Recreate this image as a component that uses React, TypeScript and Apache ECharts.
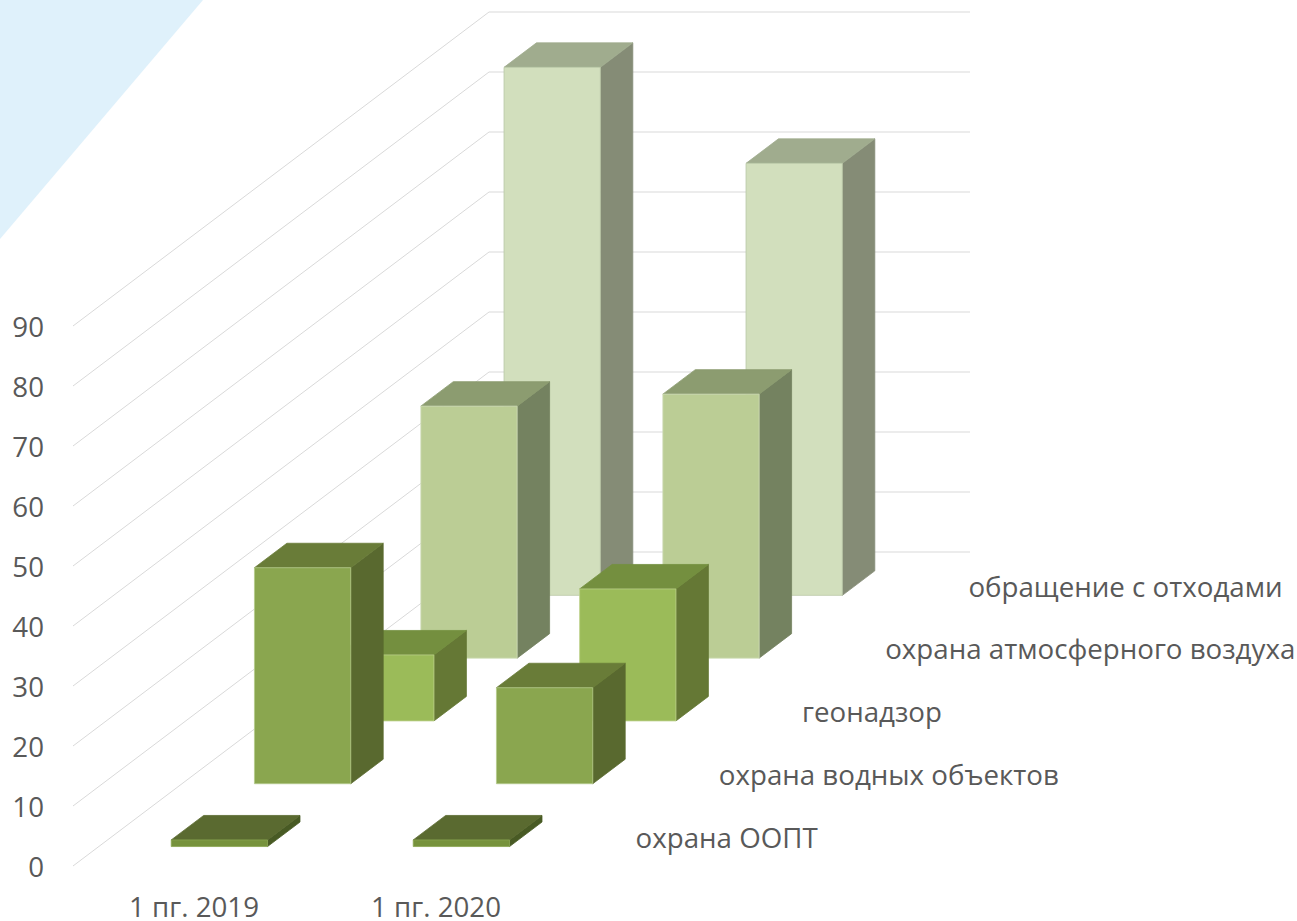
import React, { useEffect, useRef } from "react";
import * as echarts from "echarts";

const categories = ["1 пг. 2019", "1 пг. 2020"];
const depthNames = [
  "охрана ООПТ",
  "охрана водных объектов",
  "геонадзор",
  "охрана атмосферного воздуха",
  "обращение с отходами",
];
const ooptValues = [1.1, 1.1];
const waterValues = [36, 16];
const geoValues = [11, 22];
const airValues = [42, 44];
const wasteValues = [88, 72];
const yTicks = [0, 10, 20, 30, 40, 50, 60, 70, 80, 90];

const frontColors = ["#76923c", "#8aa64f", "#9bbb59", "#bbcd95", "#d2dfbd"];
const topColors = ["#5a6a30", "#697c38", "#748f3f", "#8c9c70", "#a0ac8e"];
const sideColors = ["#485a24", "#59692f", "#657835", "#748260", "#858c76"];
const edgeColors = ["#8aa650", "#b4c98a", "#bcd08a", "#cfdcb8", "#b9c6a6"];

const DEPTH_DX = 83.2;
const DEPTH_DY = -62.8;
const BAR_FRONT = 0.31;
const BAR_BACK = 0.7;
const BAR_BAND = 0.398;
const BAR_SHIFT = -0.4;
const SLOTS = 5;
const FONT = "'Open Sans', sans-serif";
const FONT_SIZE = 27.7;
const TEXT = "#595959";

const project = (p: number[], d: number) => [p[0] + DEPTH_DX * d, p[1] + DEPTH_DY * d];

const barRenderer = (k: number) => (_: any, api: any) => {
  const cat = api.value(0);
  const val = api.value(1);
  const base = api.coord([cat, 0]);
  const top = api.coord([cat, val]);
  const w = api.size([1, 0])[0] * BAR_BAND;
  const l = base[0] - w / 2 + BAR_SHIFT;
  const r = base[0] + w / 2 + BAR_SHIFT;
  const d0 = k + BAR_FRONT;
  const d1 = k + BAR_BACK;
  const pts = (a: number[][]) => a.map(([x, y, d]) => project([x, y], d));
  const poly = (points: number[][], fill: string, stroke: string) => ({
    type: "polygon",
    shape: { points },
    style: { fill, stroke, lineWidth: 0.8 },
  });
  return {
    type: "group",
    children: [
      poly(
        pts([[r, top[1], d0], [r, top[1], d1], [r, base[1], d1], [r, base[1], d0]]),
        sideColors[k],
        sideColors[k]
      ),
      poly(
        pts([[l, top[1], d0], [l, top[1], d1], [r, top[1], d1], [r, top[1], d0]]),
        topColors[k],
        topColors[k]
      ),
      poly(
        pts([[l, top[1], d0], [r, top[1], d0], [r, base[1], d0], [l, base[1], d0]]),
        frontColors[k],
        edgeColors[k]
      ),
    ],
  };
};

const wallRenderer = (_: any, api: any) => {
  const v = api.value(0);
  const p = api.coord([0, v]);
  const band = api.size([1, 0])[0];
  const left = [p[0] - band / 2, p[1]];
  const back = project(left, SLOTS);
  const end = [back[0] + band * 2 - 3, back[1]];
  return {
    type: "polyline",
    shape: { points: [left, back, end] },
    style: { stroke: "#d9d9d9", lineWidth: 1, fill: "none" },
  };
};

const depthLabelRenderer = (_: any, api: any) => {
  const k = api.value(0);
  const p = api.coord([1, 0]);
  const band = api.size([1, 0])[0];
  const [x, y] = project([p[0] + band / 2 + 37, p[1] + 2.2], k + 0.5);
  return {
    type: "text",
    x,
    y,
    style: {
      text: depthNames[k],
      fill: TEXT,
      font: `${FONT_SIZE}px ${FONT}`,
      textAlign: "left",
      textVerticalAlign: "middle",
    },
  };
};

const allValues = [ooptValues, waterValues, geoValues, airValues, wasteValues];

export default function App() {
  const ref = useRef<HTMLDivElement>(null);
  useEffect(() => {
    const chart = echarts.init(ref.current!, undefined, { renderer: "svg" });
    const barSeries = allValues.map((vals, k) => ({
      type: "custom",
      name: depthNames[k],
      coordinateSystem: "cartesian2d",
      renderItem: barRenderer(k),
      data: vals.map((v, i) => [i, v]),
      encode: { x: 0, y: 1 },
      z: 2 + (SLOTS - k),
      silent: true,
    }));
    chart.setOption({
      animation: false,
      backgroundColor: "#ffffff",
      tooltip: { show: false },
      grid: { left: 73, top: 326, width: 484, height: 540 },
      xAxis: {
        type: "category",
        data: categories,
        axisLine: { show: false },
        axisTick: { show: false },
        splitLine: { show: false },
        axisLabel: { color: TEXT, fontFamily: FONT, fontSize: FONT_SIZE, lineHeight: 26, margin: 27 },
      },
      yAxis: {
        type: "value",
        min: 0,
        max: 90,
        interval: 10,
        axisLine: { show: false },
        axisTick: { show: false },
        splitLine: { show: false },
        axisLabel: { color: TEXT, fontFamily: FONT, fontSize: FONT_SIZE, margin: 29, padding: [4, 0, 0, 0] },
      },
      graphic: [
        {
          type: "polygon",
          z: -1,
          silent: true,
          shape: { points: [[0, 0], [203, 0], [0, 239]] },
          style: { fill: "#dff1fb" },
        },
      ],
      series: [
        {
          type: "custom",
          coordinateSystem: "cartesian2d",
          renderItem: wallRenderer,
          data: yTicks.map((v) => [v]),
          encode: { y: 0 },
          z: 1,
          silent: true,
        },
        ...barSeries,
        {
          type: "custom",
          coordinateSystem: "cartesian2d",
          renderItem: depthLabelRenderer,
          data: depthNames.map((_, k) => [k]),
          encode: {},
          z: 30,
          silent: true,
        },
      ],
    });
    return () => chart.dispose();
  }, []);
  return <div ref={ref} style={{ position: "absolute", left: 0, top: 0, width: 1297, height: 921 }} />;
}
